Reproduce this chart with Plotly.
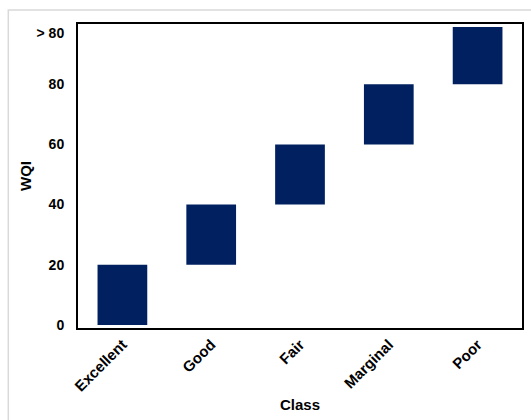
import plotly.graph_objects as go

classes = ["Excellent", "Good", "Fair", "Marginal", "Poor"]
wqi_low = [0, 20, 40, 60, 80]
wqi_high = [20, 40, 60, 80, 99]
ytick_vals = [0, 20, 40, 60, 80, 97]
ytick_text = ["0", "20", "40", "60", "80", "> 80"]

heights = [h - l for h, l in zip(wqi_high, wqi_low)]

FONT = "Arial, Liberation Sans, sans-serif"

fig = go.Figure(
    go.Bar(
        x=classes,
        y=heights,
        base=wqi_low,
        marker=dict(color="#002060", line=dict(width=0)),
        width=0.56,
    )
)

W, H = 531, 420
L, R, T, B = 78, 7, 24, 92
pw, ph = W - L - R, H - T - B

def px_x(x):
    return (x - L) / pw

def px_y(y):
    return 1 - (y - T) / ph

fig.update_layout(
    width=W,
    height=H,
    margin=dict(l=L, r=R, t=T, b=B),
    paper_bgcolor="white",
    plot_bgcolor="white",
    showlegend=False,
    font=dict(family=FONT, size=14, color="black"),
    shapes=[
        dict(
            type="rect", xref="paper", yref="paper",
            x0=px_x(8), x1=px_x(560), y0=px_y(440), y1=px_y(10),
            line=dict(color="#d9d9d9", width=1.5), fillcolor="rgba(0,0,0,0)",
            layer="below",
        )
    ],
)

fig.update_xaxes(
    tickangle=-45,
    tickfont=dict(family=FONT, size=15, color="black", weight="bold"),
    title=dict(text="<b>Class</b>", font=dict(family=FONT, size=15), standoff=6),
    showline=True, linecolor="black", linewidth=2, mirror=True,
    showgrid=False, ticks="",
)
fig.update_yaxes(
    range=[-1, 100],
    tickvals=ytick_vals,
    ticktext=ytick_text,
    tickfont=dict(family=FONT, size=14, color="black", weight="bold"),
    ticklabelstandoff=9,
    title=dict(text="<b>WQI</b>", font=dict(family=FONT, size=15), standoff=1),
    showline=True, linecolor="black", linewidth=2, mirror=True,
    showgrid=False, zeroline=False, ticks="", ticklen=0,
)

fig.write_html("out.html")
